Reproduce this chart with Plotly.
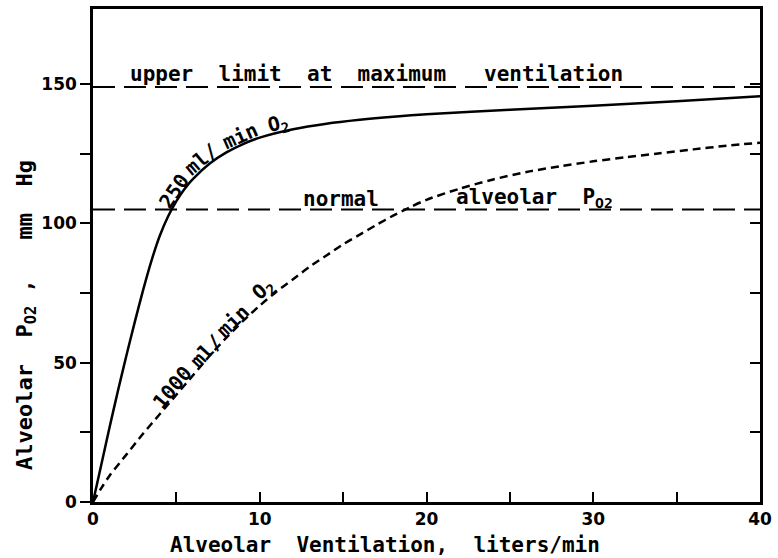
import plotly.graph_objects as go

# ---- data ----
vent_250 = [0, 0.5, 1, 1.5, 2, 2.5, 3, 3.5, 4, 4.5, 5, 5.5, 6, 7, 8, 9, 10, 12, 14, 16, 18, 20, 25, 30, 35, 40]
po2_250 = [0, 13.5, 27, 40, 52.5, 64.5, 76, 86.5, 95.5, 102.5, 108, 112.5, 116, 121.5, 125.5, 128.5,
           130.8, 133.8, 135.8, 137.2, 138.3, 139.2, 140.8, 142.3, 143.9, 145.7]

vent_1000 = [0, 0.5, 1, 2, 3, 4, 5, 6, 7, 8, 9, 10, 11, 12, 13, 14, 15, 16, 17, 18, 19, 20,
             22, 24, 26, 28, 30, 32, 34, 36, 38, 40]
po2_1000 = [0, 5, 9.5, 17, 24.5, 31.5, 38.5, 45.5, 52.5, 59, 65, 70.5, 75.5, 80, 84.5, 88.5, 92.5,
            96, 99.5, 102.8, 105.8, 108.5, 112.5, 115.8, 118.5, 120.5, 122.3, 123.8, 125.2, 126.6, 127.9, 129]

ref_x = [0, 40]
upper_limit = [149, 149]
normal_po2 = [105, 105]

x_major = [0, 10, 20, 30, 40]
x_labels = ["0", "10", "20", "30", "40"]
x_minor = [5, 15, 25, 35]
y_major = [0, 50, 100, 150]
y_labels = ["0", "50", "100", "150"]
y_minor = [25, 75, 125]
y_right_ticks = [25, 50, 75, 100, 125, 150]

MONO = "DejaVu Sans Mono"
SANS = "DejaVu Sans"

fig = go.Figure()
fig.add_trace(go.Scatter(x=ref_x, y=upper_limit, mode="lines",
                         line=dict(color="black", width=2, dash="22px,9px"), showlegend=False))
fig.add_trace(go.Scatter(x=ref_x, y=normal_po2, mode="lines",
                         line=dict(color="black", width=2, dash="22px,9px"), showlegend=False))
fig.add_trace(go.Scatter(x=vent_250, y=po2_250, mode="lines",
                         line=dict(color="black", width=2.5, shape="spline", smoothing=0.8),
                         showlegend=False))
fig.add_trace(go.Scatter(x=vent_1000, y=po2_1000, mode="lines",
                         line=dict(color="black", width=2.5, dash="8px,5px", shape="spline", smoothing=0.8),
                         showlegend=False))
# invisible trace to carry the right-hand (inward) tick axis
fig.add_trace(go.Scatter(x=[0], y=[0], yaxis="y2", mode="markers", marker=dict(opacity=0),
                         showlegend=False, hoverinfo="skip"))

txt_font = dict(family=MONO, size=21, color="black", weight="bold")
lab_font = dict(family=MONO, size=20, color="black", weight="bold")
ytitle_font = dict(family=MONO, size=22, color="black", weight="bold")

ann = [
    dict(x=17.0, y=149, text="upper\u00a0\u00a0limit\u00a0\u00a0at\u00a0\u00a0maximum\u00a0\u00a0\u00a0ventilation",
         yanchor="bottom", yshift=-1, font=txt_font),
    dict(x=14.9, y=105, text="normal", yanchor="bottom", yshift=-3, font=txt_font),
    dict(x=26.5, y=105, text="alveolar\u00a0\u00a0P<sub>O2</sub>", yanchor="bottom", yshift=-3, font=txt_font),
    # curved label along the 250 ml/min curve
    dict(x=4.87, y=111.6, text="250", textangle=-56, font=lab_font),
    dict(x=6.5, y=123.1, text="ml/", textangle=-40, font=lab_font),
    dict(x=8.8, y=131.5, text="min", textangle=-24, font=lab_font),
    dict(x=11.1, y=135.8, text="O<sub>2</sub>", textangle=-14, font=lab_font),
    # label along the 1000 ml/min curve
    dict(x=4.71, y=41.1, text="1000", textangle=-50, font=lab_font),
    dict(x=6.79, y=54.2, text="ml/", textangle=-47, font=lab_font),
    dict(x=8.38, y=64.9, text="min", textangle=-44, font=lab_font),
    dict(x=10.17, y=76.2, text="O<sub>2</sub>", textangle=-42, font=lab_font),
]
for a in ann:
    a.update(xref="x", yref="y", showarrow=False)

ann.append(dict(xref="paper", yref="paper", x=-0.1, y=0.38, xanchor="center", yanchor="middle",
                showarrow=False, textangle=-90,
                text="Alveolar\u00a0\u00a0P<sub>O2</sub>\u00a0,\u00a0\u00a0\u00a0mm\u00a0\u00a0Hg",
                font=ytitle_font))
ann.append(dict(xref="paper", yref="paper", x=0.438, y=-0.087, xanchor="center", yanchor="middle",
                showarrow=False,
                text="Alveolar\u00a0\u00a0Ventilation,\u00a0\u00a0liters/min", font=txt_font))

tick_font = dict(family=SANS, size=17, color="black", weight="bold")

fig.update_layout(
    width=778, height=558,
    margin=dict(l=93, r=14, t=6, b=56),
    paper_bgcolor="white", plot_bgcolor="white",
    annotations=ann,
    xaxis=dict(range=[0, 40], tickvals=x_major, ticktext=x_labels, ticks="inside", ticklen=10,
               tickwidth=2, tickcolor="black", showline=True, linecolor="black", linewidth=2.5,
               mirror=True, showgrid=False, zeroline=False, tickfont=tick_font,
               minor=dict(tickvals=x_minor, ticks="inside", ticklen=10, tickwidth=2,
                          tickcolor="black", showgrid=False)),
    yaxis=dict(range=[0, 177], tickvals=y_major, ticktext=y_labels, ticks="outside", ticklen=10,
               tickwidth=2, tickcolor="black", showline=True, linecolor="black", linewidth=2.5,
               mirror=True, showgrid=False, zeroline=False, tickfont=tick_font,
               minor=dict(tickvals=y_minor, ticks="outside", ticklen=10, tickwidth=2,
                          tickcolor="black", showgrid=False)),
    yaxis2=dict(range=[0, 177], overlaying="y", side="right", tickvals=y_right_ticks,
                ticks="inside", ticklen=10, tickwidth=2, tickcolor="black", showticklabels=False,
                showline=False, showgrid=False, zeroline=False),
)

fig.write_html("out.html", config={"displayModeBar": False},
               post_script="document.body.style.margin='0px';")
